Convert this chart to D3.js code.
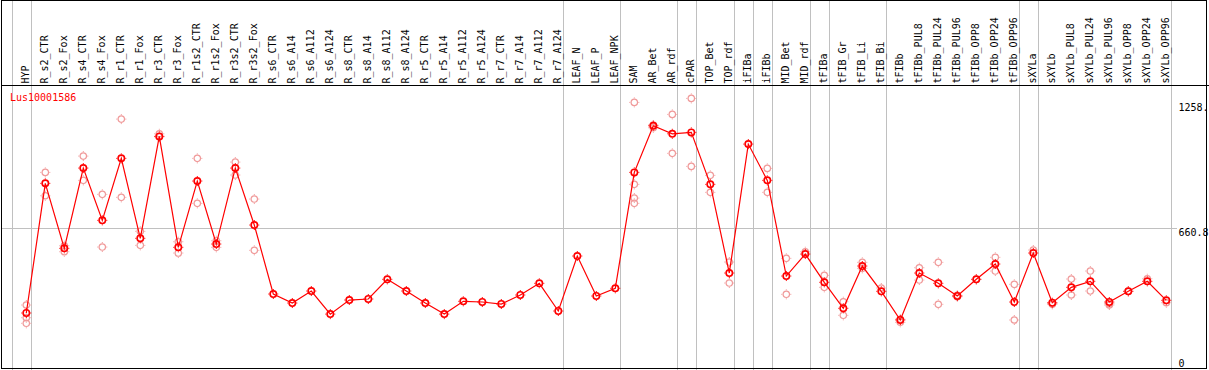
<!DOCTYPE html>
<html>
<head>
<meta charset="utf-8">
<script src="https://cdn.jsdelivr.net/npm/d3@7"></script>
<style>
  body { margin: 0; background: #fff; }
  svg { display: block; }
  text { font-family: "DejaVu Sans Mono", monospace; font-size: 10px; }
</style>
</head>
<body>
<svg></svg>
<script>
var gene = "Lus10001586";

var categories = ["HYP","R_s2_CTR","R_s2_Fox","R_s4_CTR","R_s4_Fox","R_r1_CTR","R_r1_Fox","R_r3_CTR","R_r3_Fox",
  "R_r1s2_CTR","R_r1s2_Fox","R_r3s2_CTR","R_r3s2_Fox","R_s6_CTR","R_s6_A14","R_s6_A112","R_s6_A124",
  "R_s8_CTR","R_s8_A14","R_s8_A112","R_s8_A124","R_r5_CTR","R_r5_A14","R_r5_A112","R_r5_A124",
  "R_r7_CTR","R_r7_A14","R_r7_A112","R_r7_A124","LEAF_N","LEAF_P","LEAF_NPK","SAM","AR_Bet","AR_rdf",
  "cPAR","TOP_Bet","TOP_rdf","iFIBa","iFIBb","MID_Bet","MID_rdf","tFIBa","tFIB_Gr","tFIB_Li","tFIB_Bi",
  "tFIBb","tFIBb_PUL8","tFIBb_PUL24","tFIBb_PUL96","tFIBb_OPP8","tFIBb_OPP24","tFIBb_OPP96",
  "sXYLa","sXYLb","sXYLb_PUL8","sXYLb_PUL24","sXYLb_PUL96","sXYLb_OPP8","sXYLb_OPP24","sXYLb_OPP96"];

var means = [255.5, 873.6, 563.8, 946.5, 697.3, 992.8, 611.5, 1097.6, 568.6,
  884.6, 584.3, 946.5, 674.9, 346, 303.1, 360.3, 250.2,
  317.4, 322.2, 416.1, 360.3, 303.1, 250.2, 311.2, 307.9,
  298.4, 341.3, 397, 265, 527.1, 336.5, 373.2, 926, 1148.1, 1110,
  1116.7, 868.8, 446.1, 1060.9, 887.9, 431.8, 536.6, 401.8, 277.9, 479.5, 358.9,
  222.1, 446.1, 397, 336.5, 416.1, 489, 307.9,
  541.4, 304.5, 377.9, 406.5, 307.9, 358.9, 406.5, 316];

var replicates = [
  [293.6, 233, 206.4], [926, 814.5], [576.2, 547.6], [1003.7, 887.9], [821.2, 570],
  [1180, 806.9], [644.8, 578.1], [1110, 1095.7], [595.3, 541.4],
  [992.8, 778.3], [600, 568.6], [975.1, 913.2], [798.8, 554.3],
  [], [], [], [], [], [], [], [], [], [], [], [], [], [], [], [],
  [], [], [],
  [1259.7, 868.8, 803.5, 778.3], [1152, 1138.6], [1202.4, 1016.6],
  [1278.7, 954.6], [911.7, 830.7], [498.5, 398.4], [], [945, 830.7],
  [516.2, 344.6], [547.6], [435.1, 377.9], [309.3, 244.5], [497.1, 468.5], [374.6],
  [211.1, 226], [471.4, 412.7], [497.1, 296.9], [333, 340], [416.1], [520.9, 455.6], [392.2, 222.1],
  [555.7], [296.9, 302], [417.5, 341.3], [455.6, 360.3], [293.6, 300], [358.9], [418.9], [304.5]
];

// a grey rule is drawn just right of these columns
var dividers = ["HYP","R_r7_A124","LEAF_NPK","AR_rdf","cPAR","TOP_rdf","iFIBa","iFIBb",
  "MID_rdf","tFIBa","tFIB_Bi","tFIBb_OPP96","sXYLa","sXYLb_OPP96"];

var tickValues = [0, 660.8, 1258.6];
var tickLabels = ["0", "660.8", "1258."];

var W = 1209, H = 370;
var svg = d3.select("svg").attr("width", W).attr("height", H);

var x = d3.scalePoint().domain(categories).range([26.3, 26.3 + 19 * 60]);
var step = x.step();
var y = d3.scaleLinear().domain([0, 660.8]).range([366.6, 228]);

// grey grid
var grid = svg.append("g").attr("stroke", "#c0c0c0").attr("stroke-width", 1);
grid.append("line")
    .attr("x1", Math.round(x(categories[0]) - step + 4.4) + 0.5)
    .attr("x2", Math.round(x(categories[0]) - step + 4.4) + 0.5)
    .attr("y1", 0).attr("y2", H);
grid.selectAll("line.div").data(dividers).enter().append("line")
    .attr("class", "div")
    .attr("x1", function(d){ return Math.round(x(d) + 4.4) + 0.5; })
    .attr("x2", function(d){ return Math.round(x(d) + 4.4) + 0.5; })
    .attr("y1", 0).attr("y2", H);
grid.append("line")
    .attr("x1", 2).attr("x2", 1177)
    .attr("y1", Math.round(y(660.8)) + 0.5).attr("y2", Math.round(y(660.8)) + 0.5);

// frame
svg.append("rect").attr("x", 1.5).attr("y", 0.5).attr("width", 1205).attr("height", 368)
   .attr("fill", "none").attr("stroke", "#000");
svg.append("line").attr("x1", 1).attr("x2", W).attr("y1", 85.5).attr("y2", 85.5).attr("stroke", "#000");

// column labels
svg.append("g").selectAll("text").data(categories).enter().append("text")
   .attr("transform", function(d){ return "translate(" + Math.round(x(d) + 3) + ",83.5) rotate(-90)"; })
   .attr("fill", "#000")
   .text(function(d){ return d; });

// y labels
svg.append("g").selectAll("text").data(tickValues).enter().append("text")
   .attr("x", 1178.5)
   .attr("y", function(d, i){ return i == 0 ? 366.5 : y(d) + 8.3; })
   .attr("fill", "#000")
   .text(function(d, i){ return tickLabels[i]; });

svg.append("text").attr("x", 10).attr("y", 100.5).attr("fill", "#ff0000").text(gene);

function marker(g, color, width) {
  g.append("circle").attr("r", 3.2).attr("fill", "none").attr("stroke", color).attr("stroke-width", width);
  g.append("path").attr("d", "M0,-5V-4M0,4V5M-5,0H-4M4,0H5")
   .attr("stroke", color).attr("stroke-width", 1);
}

// replicates
var reps = [];
replicates.forEach(function(list, i){
  list.forEach(function(v){ reps.push({c: categories[i], v: v}); });
});
svg.append("g").selectAll("g").data(reps).enter().append("g")
   .attr("transform", function(d){ return "translate(" + x(d.c) + "," + y(d.v) + ")"; })
   .each(function(){ marker(d3.select(this), "#f09a9a", 1.2); });

// mean line
var line = d3.line()
  .x(function(d, i){ return x(categories[i]); })
  .y(function(d){ return y(d); });
svg.append("path").datum(means).attr("d", line)
   .attr("fill", "none").attr("stroke", "#ff0000").attr("stroke-width", 1.2);

svg.append("g").selectAll("g").data(means).enter().append("g")
   .attr("transform", function(d, i){ return "translate(" + x(categories[i]) + "," + y(d) + ")"; })
   .each(function(){ marker(d3.select(this), "#ff0000", 1.6); });
</script>
</body>
</html>
